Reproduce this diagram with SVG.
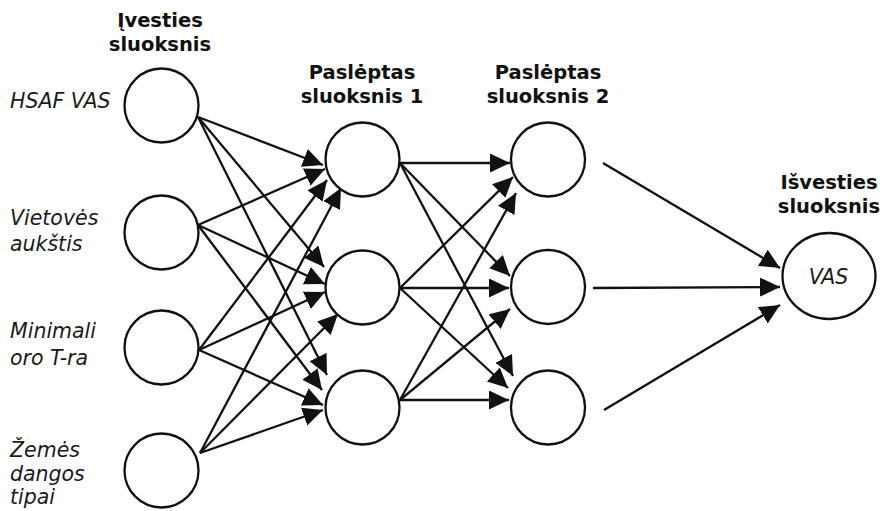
<svg xmlns="http://www.w3.org/2000/svg" width="882" height="511" viewBox="0 0 882 511">
  <style>
    .node { fill: #ffffff; stroke: #111111; stroke-width: 2.3; }
    .edge { stroke: #111111; stroke-width: 2.3; fill: none; marker-end: url(#arrow); }
    .title { font-family: "DejaVu Sans", sans-serif; font-weight: bold; font-size: 19.5px; fill: #111111; text-anchor: middle; }
    .label { font-family: "DejaVu Sans", sans-serif; font-style: oblique; font-size: 20.5px; fill: #1a1a1a; }
  </style>
  <defs>
    <marker id="arrow" markerUnits="userSpaceOnUse" markerWidth="22" markerHeight="22" refX="20" refY="9.5" orient="auto">
      <path d="M0,0 L20,9.5 L0,19 z" fill="#111111"/>
    </marker>
  </defs>

  <rect width="882" height="511" fill="#ffffff"/>

  <!-- layer titles -->
  <text class="title" x="160" y="27">Įvesties</text>
  <text class="title" x="160" y="51">sluoksnis</text>
  <text class="title" x="362" y="79">Paslėptas</text>
  <text class="title" x="362" y="103">sluoksnis 1</text>
  <text class="title" x="548" y="79">Paslėptas</text>
  <text class="title" x="548" y="103">sluoksnis 2</text>
  <text class="title" x="829" y="189">Išvesties</text>
  <text class="title" x="829" y="213">sluoksnis</text>

  <!-- connectors -->
  <g id="connectors">
    <!-- input layer to hidden layer 1 -->
    <line class="edge" x1="198" y1="117" x2="323" y2="165"/>
    <line class="edge" x1="198" y1="225" x2="325" y2="169"/>
    <line class="edge" x1="199" y1="350" x2="327" y2="180"/>
    <line class="edge" x1="200" y1="453" x2="341" y2="188"/>
    <line class="edge" x1="198" y1="117" x2="324" y2="267"/>
    <line class="edge" x1="198" y1="225" x2="325" y2="284"/>
    <line class="edge" x1="199" y1="350" x2="325" y2="292"/>
    <line class="edge" x1="200" y1="453" x2="338" y2="314"/>
    <line class="edge" x1="198" y1="117" x2="327" y2="375"/>
    <line class="edge" x1="198" y1="225" x2="322" y2="390"/>
    <line class="edge" x1="199" y1="350" x2="323" y2="405"/>
    <line class="edge" x1="200" y1="453" x2="323" y2="410"/>
    <!-- hidden layer 1 to hidden layer 2 -->
    <line class="edge" x1="400" y1="163" x2="510" y2="163"/>
    <line class="edge" x1="400" y1="288" x2="513" y2="177"/>
    <line class="edge" x1="400" y1="400" x2="516" y2="193"/>
    <line class="edge" x1="400" y1="163" x2="510" y2="276"/>
    <line class="edge" x1="400" y1="288" x2="509" y2="288"/>
    <line class="edge" x1="400" y1="400" x2="510" y2="309"/>
    <line class="edge" x1="400" y1="163" x2="513" y2="376"/>
    <line class="edge" x1="400" y1="288" x2="508" y2="388"/>
    <line class="edge" x1="400" y1="400" x2="509" y2="400"/>
    <!-- hidden layer 2 to output -->
    <line class="edge" x1="603" y1="163" x2="780" y2="268"/>
    <line class="edge" x1="593" y1="288" x2="780" y2="287"/>
    <line class="edge" x1="604" y1="410" x2="780" y2="305"/>
  </g>

  <!-- input layer -->
  <g id="in-hsaf">
    <circle class="node" cx="161.5" cy="105.5" r="37"/>
    <text class="label" x="10" y="108">HSAF VAS</text>
  </g>
  <g id="in-altitude">
    <circle class="node" cx="161.5" cy="232.5" r="37"/>
    <text class="label" x="10" y="225">Vietovės</text>
    <text class="label" x="10" y="251">aukštis</text>
  </g>
  <g id="in-mintemp">
    <circle class="node" cx="161.5" cy="347.5" r="37"/>
    <text class="label" x="10" y="338">Minimali</text>
    <text class="label" x="10" y="365">oro T-ra</text>
  </g>
  <g id="in-landcover">
    <circle class="node" cx="161.5" cy="470.5" r="37"/>
    <text class="label" x="10" y="457">Žemės</text>
    <text class="label" x="10" y="481">dangos</text>
    <text class="label" x="10" y="504">tipai</text>
  </g>

  <!-- hidden layer 1 -->
  <g id="h1-1"><circle class="node" cx="362.5" cy="159.5" r="37"/></g>
  <g id="h1-2"><circle class="node" cx="362.5" cy="287.5" r="37"/></g>
  <g id="h1-3"><circle class="node" cx="362.5" cy="407.5" r="37"/></g>

  <!-- hidden layer 2 -->
  <g id="h2-1"><circle class="node" cx="548" cy="159.5" r="37"/></g>
  <g id="h2-2"><circle class="node" cx="548" cy="287" r="37"/></g>
  <g id="h2-3"><circle class="node" cx="548" cy="407.5" r="37"/></g>

  <!-- output layer -->
  <g id="out-vas">
    <ellipse class="node" cx="829" cy="276" rx="46.5" ry="43"/>
    <text class="label" x="828.5" y="284" text-anchor="middle">VAS</text>
  </g>
</svg>
